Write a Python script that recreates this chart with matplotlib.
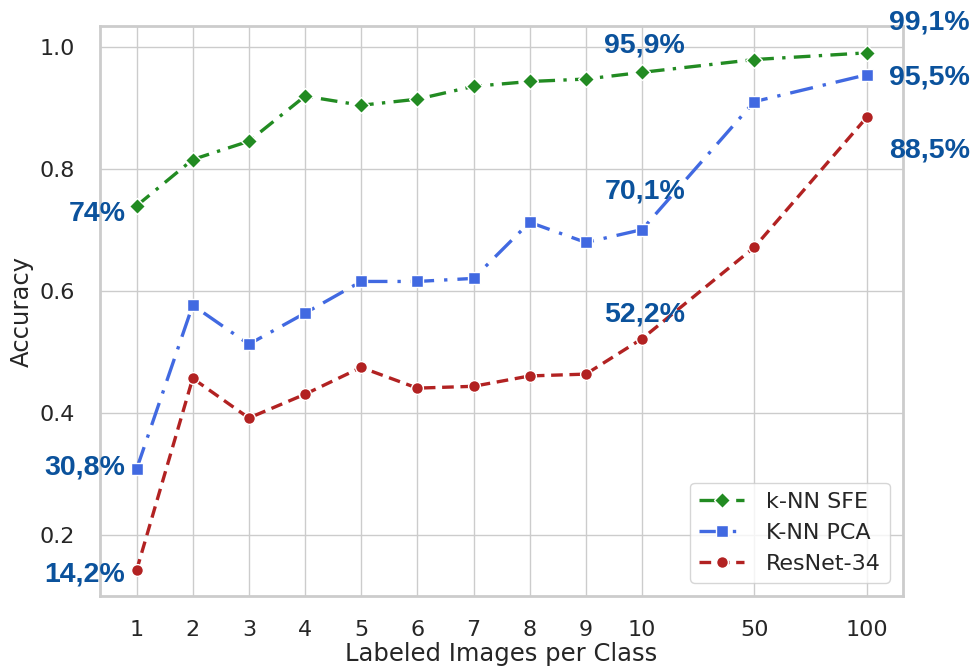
import matplotlib
matplotlib.use('Agg')
import matplotlib.pyplot as plt
import seaborn as sns
import numpy as np

# labeled images per class
x_labels = ['1', '2', '3', '4', '5', '6', '7', '8', '9', '10', '50', '100']
x_pos = [0, 1, 2, 3, 4, 5, 6, 7, 8, 9, 11, 13]

knn_sfe = [0.74, 0.816, 0.846, 0.92, 0.905, 0.915, 0.936, 0.944, 0.948, 0.959, 0.98, 0.991]
knn_pca = [0.308, 0.577, 0.513, 0.564, 0.616, 0.616, 0.621, 0.713, 0.680, 0.701, 0.911, 0.955]
resnet = [0.142, 0.457, 0.392, 0.431, 0.475, 0.441, 0.444, 0.461, 0.464, 0.522, 0.672, 0.885]

# (text, x, y, ha)
annotations = [
    ('74%', -0.2, 0.726, 'right'),
    ('30,8%', -0.2, 0.310, 'right'),
    ('14,2%', -0.2, 0.136, 'right'),
    ('95,9%', 9.05, 1.003, 'center'),
    ('70,1%', 9.05, 0.764, 'center'),
    ('52,2%', 9.05, 0.562, 'center'),
    ('99,1%', 13.4, 1.041, 'left'),
    ('95,5%', 13.4, 0.951, 'left'),
    ('88,5%', 13.4, 0.831, 'left'),
]

sns.set_theme(style='whitegrid')

fig = plt.figure(figsize=(9.77, 6.69), dpi=100)
ax = fig.add_axes([0.1024, 0.1091, 0.822, 0.852])

ax.plot(x_pos, knn_sfe, color='forestgreen', linestyle=(0, (5, 2.5, 1, 2.5)), lw=2.4,
        marker='D', markersize=8.5, markeredgecolor='white', markeredgewidth=1, label='k-NN SFE')
ax.plot(x_pos, knn_pca, color='royalblue', linestyle=(0, (7, 3, 1, 3)), lw=2.4,
        marker='s', markersize=8.5, markeredgecolor='white', markeredgewidth=1, label='K-NN PCA')
ax.plot(x_pos, resnet, color='firebrick', linestyle=(0, (3.5, 2)), lw=2.4,
        marker='o', markersize=8.5, markeredgecolor='white', markeredgewidth=1, label='ResNet-34')

for text, tx, ty, ha in annotations:
    ax.text(tx, ty, text, ha=ha, va='center', fontsize=20.5, fontweight='bold',
            color='#0b529c', family='Liberation Sans', clip_on=False)

ax.set_xticks(x_pos)
ax.set_xticklabels(x_labels)
ax.set_xlim(-0.65, 13.65)
ax.set_ylim(0.1, 1.035)
ax.set_yticks([0.2, 0.4, 0.6, 0.8, 1.0])
ax.tick_params(axis='x', labelsize=16, pad=11)
ax.tick_params(axis='y', labelsize=16, pad=12)
ax.set_xlabel('Labeled Images per Class', fontsize=17.5, labelpad=2)
ax.set_ylabel('Accuracy', fontsize=17.5, labelpad=4)

for s in ax.spines.values():
    s.set_color('#cccccc')
    s.set_linewidth(2)

ax.legend(loc='lower right', fontsize=16, handlelength=2.0, handletextpad=1.0,
          borderaxespad=0.6)

fig.savefig('out.png', dpi=100)
